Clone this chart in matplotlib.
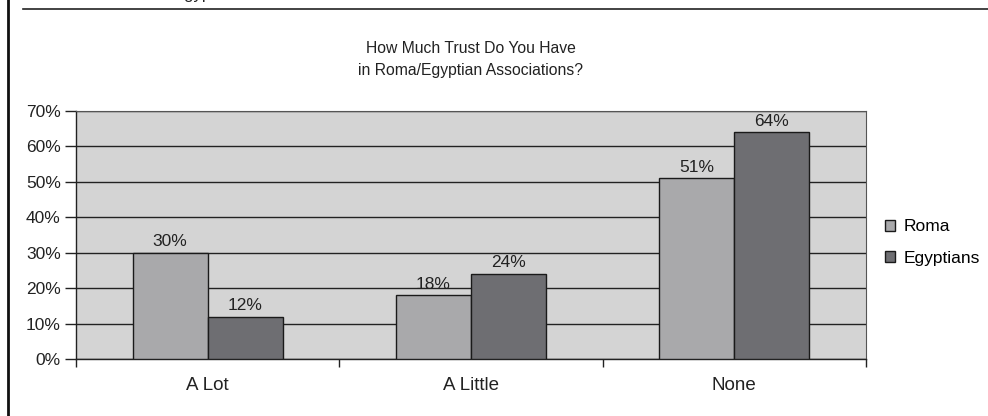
import numpy as np
import matplotlib.pyplot as plt
from matplotlib.lines import Line2D

plt.rcParams['font.family'] = ['Liberation Sans', 'DejaVu Sans']

categories = ["A Lot", "A Little", "None"]
roma = [30, 18, 51]
egyptians = [12, 24, 64]
yticks = [0, 10, 20, 30, 40, 50, 60, 70]

fig = plt.figure(figsize=(9.88, 4.16), dpi=100)
ax = fig.add_axes([0.0769, 0.137, 0.7996, 0.596])

x = np.arange(len(categories))
w = 0.285
b1 = ax.bar(x - w / 2, roma, w, color='#a9a9ab', edgecolor='#1a1a1a', linewidth=1, zorder=3, label='Roma')
b2 = ax.bar(x + w / 2, egyptians, w, color='#6e6e72', edgecolor='#1a1a1a', linewidth=1, zorder=3, label='Egyptians')

for bars, vals in ((b1, roma), (b2, egyptians)):
    for r, v in zip(bars, vals):
        ax.text(r.get_x() + r.get_width() / 2, v + 1.0, "{}%".format(v),
                ha='center', va='bottom', fontsize=12.5, color='#222222')

ax.set_facecolor('#d4d4d4')
ax.set_xlim(-0.5, 2.5)
ax.set_ylim(0, 70)
ax.set_yticks(yticks)
ax.set_yticklabels(["{}%".format(t) for t in yticks], fontsize=12.5, color='#222222')
ax.yaxis.grid(True, color='#222222', linewidth=1, zorder=1)
ax.set_axisbelow(True)

# category labels centred, ticks at the category boundaries
ax.set_xticks([-0.5, 0.5, 1.5, 2.5])
ax.set_xticklabels([])
ax.set_xticks(x, minor=True)
ax.set_xticklabels(categories, minor=True, fontsize=13.5, color='#222222')
ax.tick_params(axis='x', which='major', length=6, width=1, color='#222222', direction='out')
ax.tick_params(axis='x', which='minor', length=0, pad=13)
ax.tick_params(axis='y', length=8, width=1, color='#222222', pad=3)

for s in ('top', 'right'):
    ax.spines[s].set_color('#555555')
    ax.spines[s].set_linewidth(0.8)
for s in ('left', 'bottom'):
    ax.spines[s].set_color('#222222')
    ax.spines[s].set_linewidth(1)

ax.set_title("How Much Trust Do You Have\nin Roma/Egyptian Associations?",
             fontsize=11.3, color='#222222', pad=26, linespacing=1.6)

ax.legend(loc='center left', bbox_to_anchor=(1.004, 0.47), frameon=False,
          fontsize=12.5, handlelength=0.6, handleheight=0.6, labelspacing=0.95,
          handletextpad=0.5)

# page frame around the figure
fig.add_artist(Line2D([0.0085, 0.0085], [0, 1], color='#111111', linewidth=2, transform=fig.transFigure))
fig.add_artist(Line2D([0.023, 1.0], [0.978, 0.978], color='#222222', linewidth=1.2, transform=fig.transFigure))
fig.text(0.197, 1.003, "Egypt", fontsize=12, ha='center', va='baseline', color='#222222')

fig.savefig("out.png", dpi=100)
